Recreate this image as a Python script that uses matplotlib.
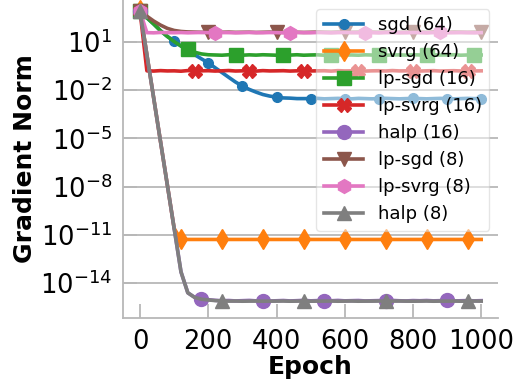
import matplotlib
matplotlib.use("Agg")
import matplotlib.pyplot as plt
import numpy as np

# epochs sampled every 20
epochs = list(range(0, 1001, 20))

labels = ["sgd (64)", "svrg (64)", "lp-sgd (16)", "lp-svrg (16)",
          "halp (16)", "lp-sgd (8)", "lp-svrg (8)", "halp (8)"]
colors = ["#1f77b4", "#ff7f0e", "#2ca02c", "#d62728",
          "#9467bd", "#8c564b", "#e377c2", "#7f7f7f"]
markers = [".", "d", "s", "X", "o", "v", "h", "^"]

sgd_64 = [800, 320, 130, 50, 22, 11.5, 5.6, 2.8, 1.6, 0.89, 0.50,
          0.25, 0.126, 0.063, 0.032, 0.018, 0.0112, 0.0076, 0.0054, 0.0043, 0.0037,
          0.0033, 0.0032, 0.0030, 0.0030, 0.0030, 0.0031, 0.0029, 0.0030, 0.0031, 0.0030,
          0.0029, 0.0031, 0.0030, 0.0029, 0.0030, 0.0031, 0.0030, 0.0029, 0.0030, 0.0031,
          0.0030, 0.0029, 0.0030, 0.0031, 0.0030, 0.0029, 0.0030, 0.0031, 0.0030, 0.0030]
svrg_64 = [1000, 1.6, 3.2e-3, 6.3e-6, 1.26e-8, 2.5e-11, 5.2e-12,
           5.2e-12, 5.2e-12, 5.2e-12, 5.2e-12, 5.2e-12, 5.2e-12, 5.2e-12, 5.2e-12,
           5.2e-12, 5.2e-12, 5.2e-12, 5.2e-12, 5.2e-12, 5.2e-12, 5.2e-12, 5.2e-12,
           5.2e-12, 5.2e-12, 5.2e-12, 5.2e-12, 5.2e-12, 5.2e-12, 5.2e-12, 5.2e-12,
           5.2e-12, 5.2e-12, 5.2e-12, 5.2e-12, 5.2e-12, 5.2e-12, 5.2e-12, 5.2e-12,
           5.2e-12, 5.2e-12, 5.2e-12, 5.2e-12, 5.2e-12, 5.2e-12, 5.2e-12, 5.2e-12,
           5.2e-12, 5.2e-12, 5.2e-12, 5.2e-12]
lpsgd_16 = [800, 320, 130, 50, 22, 10.5, 5.6, 3.6, 2.3, 1.8, 1.6,
            1.55, 1.5, 1.6, 1.55, 1.5, 1.58, 1.52, 1.6, 1.55, 1.5,
            1.57, 1.53, 1.6, 1.5, 1.55, 1.58, 1.5, 1.56, 1.6, 1.52,
            1.55, 1.5, 1.58, 1.54, 1.6, 1.5, 1.55, 1.57, 1.52, 1.6,
            1.55, 1.5, 1.58, 1.53, 1.56, 1.6, 1.5, 1.55, 1.58, 1.55]
lpsvrg_16 = [800, 0.16, 0.155, 0.165, 0.158, 0.16, 0.152, 0.166, 0.158, 0.16, 0.163,
             0.155, 0.16, 0.167, 0.156, 0.16, 0.162, 0.154, 0.165, 0.158, 0.16,
             0.163, 0.155, 0.16, 0.166, 0.157, 0.16, 0.162, 0.154, 0.164, 0.158,
             0.16, 0.165, 0.155, 0.16, 0.162, 0.157, 0.166, 0.158, 0.16, 0.163,
             0.155, 0.16, 0.164, 0.156, 0.16, 0.163, 0.157, 0.165, 0.158, 0.16]
halp_16 = [800, 1.6, 3.2e-3, 6.3e-6, 1.26e-8, 2.5e-11, 5.0e-14, 2.5e-15, 1.3e-15, 1.05e-15, 9.3e-16,
           8.5e-16, 8.0e-16, 8.3e-16, 7.8e-16, 8.1e-16, 8.4e-16, 7.9e-16, 8.2e-16, 7.7e-16, 8.0e-16,
           8.3e-16, 7.8e-16, 8.1e-16, 8.5e-16, 7.9e-16, 8.2e-16, 7.8e-16, 8.0e-16, 8.4e-16, 7.9e-16,
           8.1e-16, 8.3e-16, 7.8e-16, 8.0e-16, 8.2e-16, 7.9e-16, 8.4e-16, 8.0e-16, 7.8e-16, 8.2e-16,
           8.0e-16, 8.3e-16, 7.9e-16, 8.1e-16, 8.4e-16, 7.8e-16, 8.0e-16, 8.2e-16, 7.9e-16, 8.1e-16]
lpsgd_8 = [800, 400, 200, 112, 70, 52, 45, 42, 41, 40, 40.5,
           39.5, 40, 41, 39.5, 40, 40.5, 39, 40, 41, 40,
           39.5, 40.5, 40, 39, 40, 41, 40, 39.5, 40.5, 40,
           39.5, 40, 41, 40, 39.5, 40.5, 40, 39, 40, 40.5,
           40, 39.5, 41, 40, 39.5, 40.5, 40, 39.5, 40, 40.5]
lpsvrg_8 = [800, 38, 37, 39, 38, 37.5, 38.5, 37, 38, 39, 38,
            37.5, 38.5, 38, 37, 38, 39, 38, 37.5, 38.5, 38,
            37, 38, 39, 38, 37.5, 38.5, 38, 37, 38, 39,
            38, 37.5, 38.5, 38, 37, 38, 39, 38, 37.5, 38.5,
            38, 37, 38, 39, 38, 37.5, 38.5, 38, 37, 38]
halp_8 = [800, 1.6, 3.2e-3, 6.3e-6, 1.26e-8, 2.5e-11, 5.0e-14, 2.5e-15, 1.3e-15, 1.0e-15, 9.0e-16,
          8.2e-16, 7.8e-16, 7.6e-16, 7.7e-16, 7.5e-16, 7.6e-16, 7.7e-16, 7.5e-16, 7.6e-16, 7.6e-16,
          7.7e-16, 7.5e-16, 7.6e-16, 7.7e-16, 7.5e-16, 7.6e-16, 7.6e-16, 7.7e-16, 7.5e-16, 7.6e-16,
          7.7e-16, 7.5e-16, 7.6e-16, 7.6e-16, 7.7e-16, 7.5e-16, 7.6e-16, 7.7e-16, 7.6e-16, 7.5e-16,
          7.6e-16, 7.7e-16, 7.5e-16, 7.6e-16, 7.6e-16, 7.7e-16, 7.5e-16, 7.6e-16, 7.7e-16, 7.6e-16]

series = [sgd_64, svrg_64, lpsgd_16, lpsvrg_16, halp_16, lpsgd_8, lpsvrg_8, halp_8]
# marker every 100, 120, ..., 240 epochs
mark_steps = [5, 6, 7, 8, 9, 10, 11, 12]

fig = plt.figure(figsize=(5.19, 3.85), dpi=100)
ax = fig.add_axes([0.237, 0.174, 0.723, 0.826])

for vals, lab, col, mk, step in zip(series, labels, colors, markers, mark_steps):
    ms = 14 if mk == "." else 10
    ax.plot(epochs, vals, color=col, marker=mk, markevery=step, label=lab,
            linewidth=2.6, markersize=ms)

ax.set_yscale("log")
ax.set_ylim(10 ** -16.17, 10 ** 3.61)
ax.set_xlim(-50, 1050)
ax.set_yticks([1e1, 1e-2, 1e-5, 1e-8, 1e-11, 1e-14])
ax.yaxis.set_minor_locator(matplotlib.ticker.NullLocator())
ax.set_xticks([0, 200, 400, 600, 800, 1000])

ax.grid(axis="y", color="#b8b8b8", linewidth=1.3)
ax.set_axisbelow(True)
for s in ["top", "right"]:
    ax.spines[s].set_visible(False)
for s in ["left", "bottom"]:
    ax.spines[s].set_color("#b8b8b8")
    ax.spines[s].set_linewidth(1.3)
ax.tick_params(direction="in", length=10, width=1.3, color="#b8b8b8",
               labelsize=18.5, pad=8)

ax.set_xlabel("Epoch", fontsize=18, fontweight="bold", labelpad=0)
ax.set_ylabel("Gradient Norm", fontsize=18, fontweight="bold", labelpad=2)

ax.legend(loc="upper right", fontsize=13, framealpha=0.5, handlelength=2.2)

fig.savefig("out.png", dpi=100)
